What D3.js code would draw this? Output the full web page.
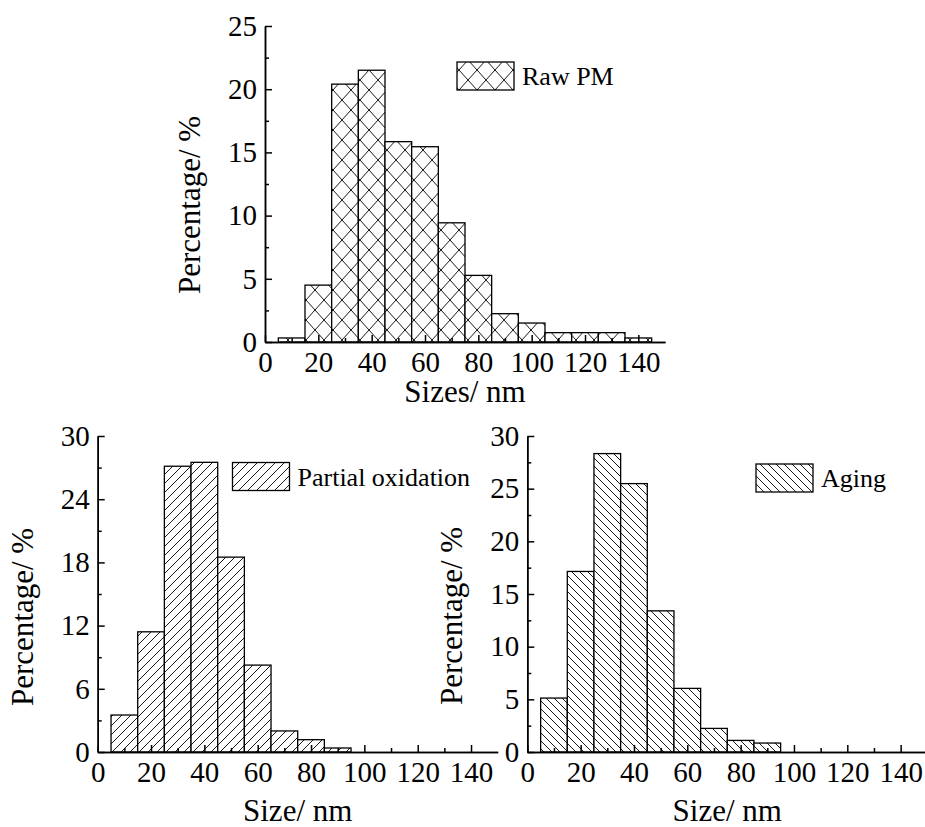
<!DOCTYPE html>
<html>
<head>
<meta charset="utf-8">
<script src="https://cdn.jsdelivr.net/npm/d3@7"></script>
<style>
  body { margin: 0; background: #fff; }
  svg { display: block; }
  text { font-family: "Liberation Serif", "Times New Roman", serif; fill: #000; }
  .axis path, .axis line { stroke: #000; stroke-width: 1.5; }
</style>
</head>
<body>
<svg width="925" height="827"></svg>
<script>
// bin centres (nm), each bar spans +-5 nm
const binCenters = [10, 20, 30, 40, 50, 60, 70, 80, 90, 100, 110, 120, 130, 140];
const rawPM = [0.32, 4.5, 20.4, 21.5, 15.85, 15.45, 9.43, 5.27, 2.24, 1.5, 0.74, 0.74, 0.74, 0.32];
const partialOx = [3.51, 11.41, 27.13, 27.5, 18.5, 8.25, 2.0, 1.17, 0.38];
const aging = [5.12, 17.14, 28.33, 25.48, 13.4, 6.04, 2.24, 1.1, 0.85];

const xTicks = [0, 20, 40, 60, 80, 100, 120, 140];
const xMinor = [10, 30, 50, 70, 90, 110, 130];
const yTicksTop = [0, 5, 10, 15, 20, 25];
const yTicksPO = [0, 6, 12, 18, 24, 30];
const yTicksAging = [0, 5, 10, 15, 20, 25, 30];

const svg = d3.select("svg");
const defs = svg.append("defs");

function hatch(id, w, h, d) {
    let p = defs.append("pattern")
        .attr("id", id)
        .attr("patternUnits", "userSpaceOnUse")
        .attr("width", w).attr("height", h);
    p.append("rect").attr("width", w).attr("height", h).attr("fill", "#fff");
    p.append("path").attr("d", d)
        .attr("stroke", "#000").attr("stroke-width", 0.9)
        .attr("stroke-linecap", "square").attr("fill", "none");
}
hatch("cross", 18, 20, "M0,0L18,20M18,0L0,20");
hatch("fwd", 9, 9, "M0,9L9,0");
hatch("back", 8, 8, "M0,0L8,8");

function panel(o) {
    let x = d3.scaleLinear().domain([0, 150]).range([o.x0, o.x0 + 400]);
    let y = d3.scaleLinear().domain([0, o.ymax]).range([o.y0, o.y1]);
    let g = svg.append("g");

    g.selectAll("rect.bar")
        .data(o.values)
        .join("rect")
        .attr("class", "bar")
        .attr("x", (d, i) => x(binCenters[i] - 5))
        .attr("width", (d, i) => x(binCenters[i] + 5) - x(binCenters[i] - 5))
        .attr("y", d => y(d))
        .attr("height", d => y(0) - y(d))
        .attr("fill", `url(#${o.pattern})`)
        .attr("stroke", "#000")
        .attr("stroke-width", 1.3);

    // minor ticks first, then major axes on top
    g.append("g").attr("class", "axis")
        .attr("transform", `translate(0,${o.y0})`)
        .call(d3.axisBottom(x).tickValues(xMinor).tickSize(-4).tickSizeOuter(0).tickFormat(""));
    g.append("g").attr("class", "axis")
        .attr("transform", `translate(${o.x0},0)`)
        .call(d3.axisLeft(y).tickValues(o.yMinor).tickSize(-4).tickSizeOuter(0).tickFormat(""));

    g.append("g").attr("class", "axis")
        .attr("transform", `translate(0,${o.y0})`)
        .call(d3.axisBottom(x).tickValues(xTicks).tickSize(-7).tickSizeOuter(0).tickPadding(9.5))
        .call(a => a.selectAll("text").attr("font-size", 29));
    g.append("g").attr("class", "axis")
        .attr("transform", `translate(${o.x0},0)`)
        .call(d3.axisLeft(y).tickValues(o.yTicks).tickSize(-7).tickSizeOuter(0).tickPadding(8))
        .call(a => a.selectAll("text").attr("font-size", 29));

    g.append("text")
        .attr("x", o.x0 + 200).attr("y", o.xTitleY)
        .attr("text-anchor", "middle").attr("font-size", 31)
        .text(o.xTitle);
    g.append("text")
        .attr("transform", `translate(${o.yTitleX},${o.yTitleCy}) rotate(-90)`)
        .attr("text-anchor", "middle").attr("font-size", 31)
        .text("Percentage/ %");

    // legend
    g.append("rect")
        .attr("x", o.leg[0]).attr("y", o.leg[1])
        .attr("width", 57).attr("height", 28)
        .attr("fill", `url(#${o.pattern})`)
        .attr("stroke", "#000").attr("stroke-width", 1.3);
    g.append("text")
        .attr("x", o.leg[0] + 65).attr("y", o.leg[1] + 23)
        .attr("font-size", 26)
        .text(o.label);
}

panel({
    x0: 265, y0: 342, y1: 26, ymax: 25,
    values: rawPM, pattern: "cross",
    yTicks: yTicksTop, yMinor: [2.5, 7.5, 12.5, 17.5, 22.5],
    xTitle: "Sizes/ nm", xTitleY: 402,
    yTitleX: 200, yTitleCy: 205,
    leg: [457, 62], label: "Raw PM"
});
panel({
    x0: 97.7, y0: 752, y1: 436, ymax: 30,
    values: partialOx, pattern: "fwd",
    yTicks: yTicksPO, yMinor: [3, 9, 15, 21, 27],
    xTitle: "Size/ nm", xTitleY: 821,
    yTitleX: 33, yTitleCy: 617,
    leg: [232.5, 462.5], label: "Partial oxidation"
});
panel({
    x0: 527.3, y0: 752, y1: 436, ymax: 30,
    values: aging, pattern: "back",
    yTicks: yTicksAging, yMinor: [2.5, 7.5, 12.5, 17.5, 22.5, 27.5],
    xTitle: "Size/ nm", xTitleY: 821,
    yTitleX: 462, yTitleCy: 616,
    leg: [756, 464], label: "Aging"
});
</script>
</body>
</html>
